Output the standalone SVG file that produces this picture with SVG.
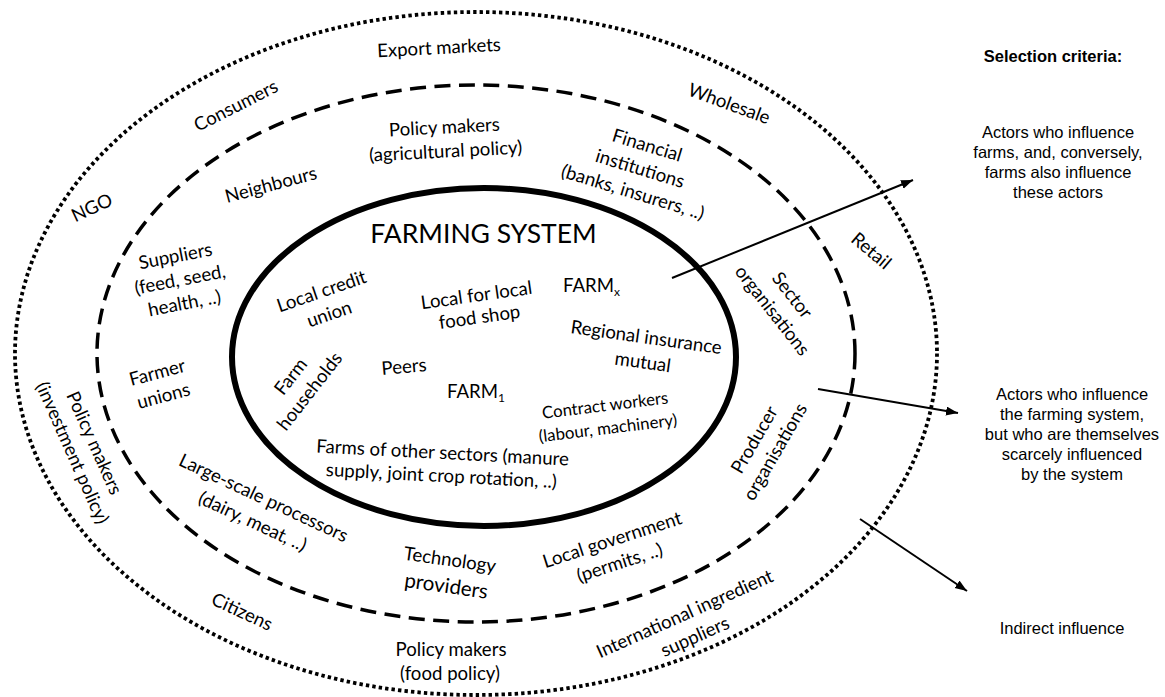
<svg xmlns="http://www.w3.org/2000/svg" width="1165" height="697" viewBox="0 0 1165 697">
<defs>
<marker id="ah" markerWidth="14" markerHeight="10" refX="12" refY="4.5" orient="auto" markerUnits="userSpaceOnUse">
<path d="M0,0 L12,4.5 L0,9 z" fill="#000"/>
</marker>
<style>
.lbl{font-family:Lato,"Liberation Sans",sans-serif;font-size:18.6px;fill:#000;text-anchor:middle}
.crit{font-family:"Liberation Sans",Arial,sans-serif;font-size:16.5px;fill:#000;text-anchor:middle}
.arrow{stroke:#000;stroke-width:2;fill:none;marker-end:url(#ah)}
</style>
</defs>
<rect width="1165" height="697" fill="#fff"/>
<g id="rings" fill="none" stroke="#000">
<ellipse id="outer-ring" cx="476" cy="353.5" rx="461" ry="341.5" stroke-width="3.8" stroke-dasharray="3.4 3.1"/>
<ellipse id="middle-ring" cx="476" cy="353.5" rx="379" ry="268.5" stroke-width="3.5" stroke-dasharray="16 8.5"/>
<ellipse id="inner-ring" cx="484" cy="357" rx="252" ry="169" stroke-width="6"/>
</g>
<g id="connectors">
<line class="arrow" x1="672" y1="278" x2="913" y2="180"/>
<line class="arrow" x1="818" y1="389" x2="958" y2="413"/>
<line class="arrow" x1="860" y1="519" x2="967" y2="591"/>
</g>
<g id="farming-system"><text class="lbl" x="483.5" y="243" style="font-size:26.5px">FARMING SYSTEM</text></g>
<g id="export-markets" transform="translate(439,48) rotate(-3)"><text class="lbl" y="6">Export markets</text></g>
<g id="consumers" transform="translate(236,106) rotate(-27)"><text class="lbl" y="6">Consumers</text></g>
<g id="ngo" transform="translate(92,208) rotate(-25)"><text class="lbl" y="6">NGO</text></g>
<g id="neighbours" transform="translate(271,185) rotate(-15)"><text class="lbl" y="6">Neighbours</text></g>
<g id="wholesale" transform="translate(729,104) rotate(20)"><text class="lbl" y="6">Wholesale</text></g>
<g id="retail" transform="translate(871,251) rotate(40)"><text class="lbl" y="6">Retail</text></g>
<g id="citizens" transform="translate(242,612) rotate(25)"><text class="lbl" y="6">Citizens</text></g>
<g id="peers" transform="translate(404,367) rotate(-5)"><text class="lbl" y="6">Peers</text></g>
<g id="policy-agri" transform="translate(445,139.5) rotate(-3)"><text class="lbl"><tspan x="0" y="-6">Policy makers</tspan><tspan x="0" y="18">(agricultural policy)</tspan></text></g>
<g id="financial" transform="translate(640,169) rotate(17)"><text class="lbl"><tspan x="0" y="-18.5">Financial</tspan><tspan x="0" y="6">institutions</tspan><tspan x="0" y="30.5">(banks, insurers, ..)</tspan></text></g>
<g id="suppliers" transform="translate(180,280) rotate(-11)"><text class="lbl"><tspan x="0" y="-18">Suppliers</tspan><tspan x="0" y="6">(feed, seed,</tspan><tspan x="0" y="30">health, ..)</tspan></text></g>
<g id="local-credit" transform="translate(325.5,303) rotate(-19)"><text class="lbl"><tspan x="0" y="-6">Local credit</tspan><tspan x="0" y="18">union</tspan></text></g>
<g id="farm-households" transform="translate(300.5,384) rotate(-52)"><text class="lbl"><tspan x="0" y="-6">Farm</tspan><tspan x="0" y="18">households</tspan></text></g>
<g id="local-food" transform="translate(478,306.5) rotate(-8)"><text class="lbl"><tspan x="0" y="-5">Local for local</tspan><tspan x="0" y="17">food shop</tspan></text></g>
<g id="farm-x"><text class="lbl" x="563" y="292" style="text-anchor:start">FARM<tspan style="font-size:12px" dy="4">x</tspan></text></g>
<g id="farm-1"><text class="lbl" x="447" y="398" style="text-anchor:start">FARM<tspan style="font-size:12px" dy="4">1</tspan></text></g>
<g id="regional-insurance" transform="translate(644.5,350) rotate(8)"><text class="lbl"><tspan x="0" y="-6.5">Regional insurance</tspan><tspan x="0" y="18.5">mutual</tspan></text></g>
<g id="contract-workers" transform="translate(606.5,417) rotate(-7)"><text class="lbl" style="font-size:16.8px"><tspan x="0" y="-6">Contract workers</tspan><tspan x="0" y="17">(labour, machinery)</tspan></text></g>
<g id="farms-other-sectors" transform="translate(442,464.5) rotate(3)"><text class="lbl"><tspan x="0" y="-5.5">Farms of other sectors (manure</tspan><tspan x="0" y="17.5">supply, joint crop rotation, ..)</tspan></text></g>
<g id="sector-organisations" transform="translate(782,303) rotate(52)"><text class="lbl"><tspan x="0" y="-6.5">Sector</tspan><tspan x="0" y="18.5">organisations</tspan></text></g>
<g id="producer-organisations" transform="translate(765,446) rotate(-60)"><text class="lbl"><tspan x="0" y="-6">Producer</tspan><tspan x="0" y="18">organisations</tspan></text></g>
<g id="policy-invest" transform="translate(83,448) rotate(66)"><text class="lbl"><tspan x="0" y="-6">Policy makers</tspan><tspan x="0" y="18">(investment policy)</tspan></text></g>
<g id="farmer-unions" transform="translate(160.5,384.5) rotate(-15)"><text class="lbl"><tspan x="0" y="-6">Farmer</tspan><tspan x="0" y="18">unions</tspan></text></g>
<g id="large-scale" transform="translate(258,510) rotate(25)"><text class="lbl"><tspan x="0" y="-7">Large-scale processors</tspan><tspan x="0" y="19">(dairy, meat, ..)</tspan></text></g>
<g id="technology" transform="translate(448,573.5) rotate(8)"><text class="lbl"><tspan x="0" y="-7.5">Technology</tspan><tspan x="0" y="19.5" style="font-size:20.5px">providers</tspan></text></g>
<g id="local-government" transform="translate(616,551.5) rotate(-18)"><text class="lbl"><tspan x="0" y="-6">Local government</tspan><tspan x="0" y="18">(permits, ..)</tspan></text></g>
<g id="policy-food"><text class="lbl"><tspan x="451" y="656">Policy makers</tspan><tspan x="450" y="680">(food policy)</tspan></text></g>
<g id="international" transform="translate(690,625.5) rotate(-24)"><text class="lbl"><tspan x="0" y="-6.5">International ingredient</tspan><tspan x="0" y="18.5">suppliers</tspan></text></g>
<g id="criteria">
<text class="crit" x="1053" y="62" font-weight="bold">Selection criteria:</text>
<text class="crit"><tspan x="1058" y="138">Actors who influence</tspan><tspan x="1058" y="158">farms, and, conversely,</tspan><tspan x="1058" y="178">farms also influence</tspan><tspan x="1058" y="198">these actors</tspan></text>
<text class="crit"><tspan x="1072" y="399.5">Actors who influence</tspan><tspan x="1072" y="419.5">the farming system,</tspan><tspan x="1072" y="439.5">but who are themselves</tspan><tspan x="1072" y="459.5">scarcely influenced</tspan><tspan x="1072" y="479.5">by the system</tspan></text>
<text class="crit" x="1062" y="634">Indirect influence</text>
</g>
</svg>
